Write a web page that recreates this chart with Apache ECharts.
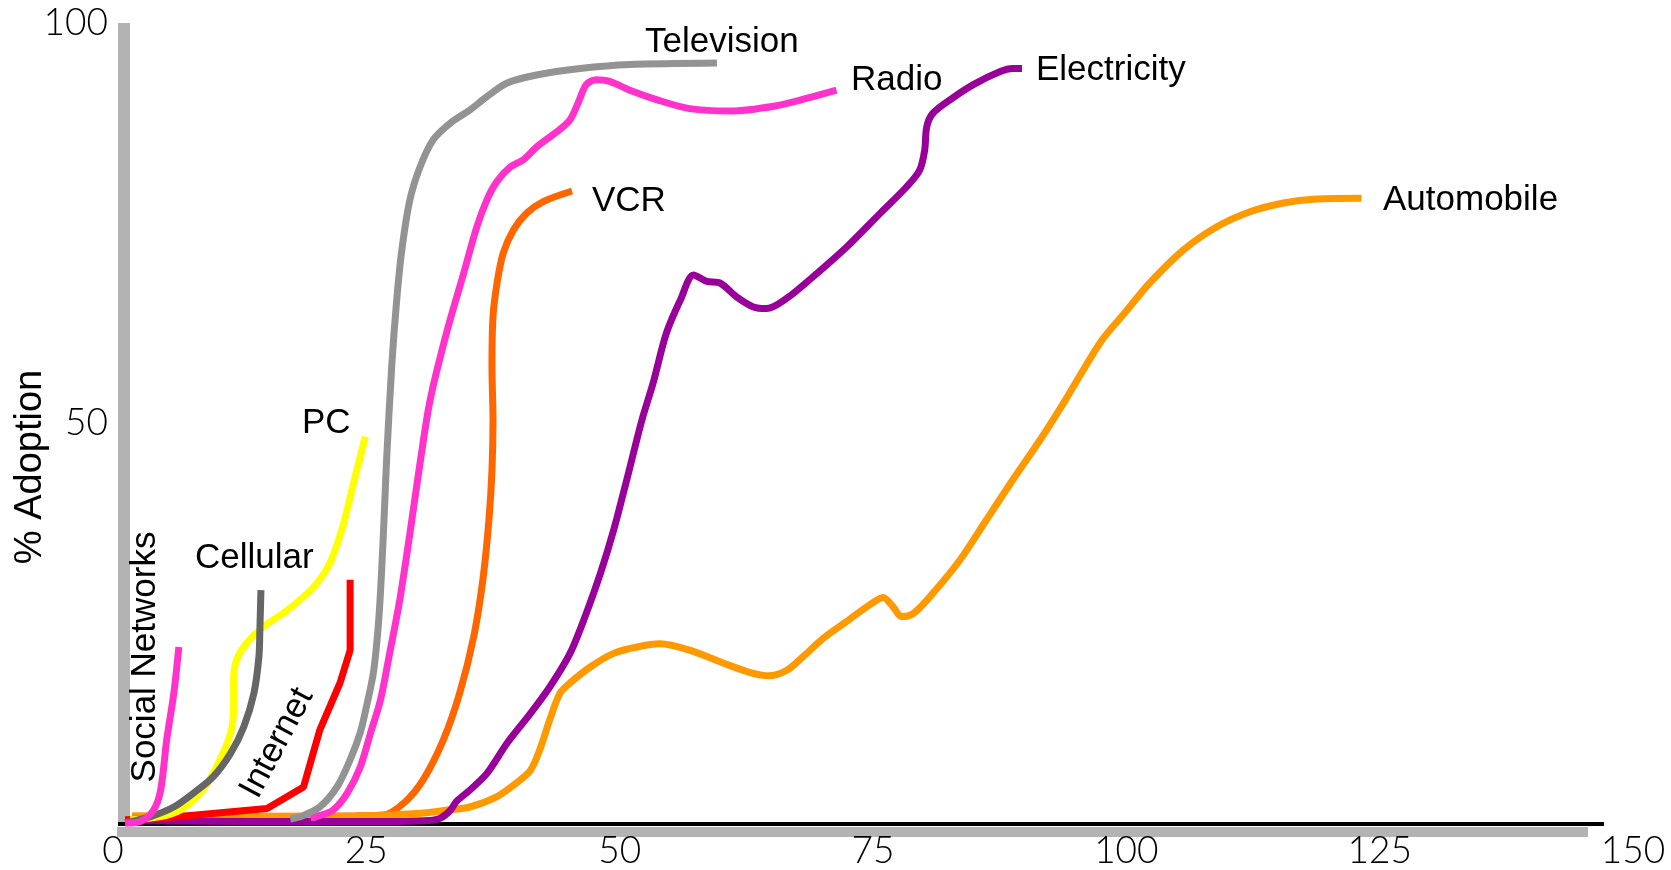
<!DOCTYPE html>
<html lang="en" style="height: 100%">
<head>
  <meta charset="utf-8" />
  <title>Technology adoption</title>
</head>
<body style="height: 100%; margin: 0; background: #fff">
  <div id="container" style="width: 1671px; height: 870px"></div>

  <script src="https://cdn.jsdelivr.net/npm/echarts@6/dist/echarts.min.js"></script>

  <script>
    // years since introduction -> % adoption
    const television = [[17.5,0.5],[18.5,0.8],[20.4,2.0],[22.1,4.5],[23.4,7.9],[24.4,11.3],[25.0,14.5],[25.7,18.8],[26.2,25.0],[26.5,31.3],[26.8,39.5],[27.0,45.4],[27.5,57.0],[28.0,65.4],[28.5,71.6],[29.3,77.9],[30.3,82.0],[31.6,85.4],[33.3,87.5],[35.2,89.1],[36.9,90.8],[38.9,92.5],[41.8,93.5],[46.1,94.3],[51.0,94.8],[59.6,95.0]];
    const radio = [[19.5,0.6],[20.1,0.8],[21.7,1.6],[23.1,3.7],[24.4,7.0],[25.4,11.2],[26.4,15.4],[27.3,21.2],[28.3,27.9],[29.3,36.2],[30.3,45.0],[31.3,52.9],[32.9,61.2],[34.6,68.7],[35.9,74.5],[36.9,77.9],[37.9,80.2],[39.2,82.0],[40.5,82.9],[41.8,84.5],[43.8,86.4],[45.1,87.9],[45.9,90.0],[46.7,92.3],[47.7,92.9],[49.0,92.7],[51.0,91.6],[53.7,90.4],[56.9,89.3],[60.9,89.0],[65.2,89.6],[68.5,90.6],[71.4,91.6]];
    const vcr = [[1.9,0.8],[12,0.8],[24,0.9],[26.7,1.0],[28.7,2.5],[30.6,5.4],[32.6,10.4],[34.2,16.2],[35.6,23.3],[36.5,30.4],[37.1,37.9],[37.4,44.1],[37.5,50.4],[37.4,57.0],[37.5,63.3],[37.9,67.5],[38.5,71.2],[39.5,74.1],[40.8,76.2],[42.5,77.7],[45.3,79.0]];
    const automobile = [[1.9,0.9],[21.4,0.8],[30,1.2],[32.9,1.6],[35.2,2.0],[37.9,3.3],[39.8,5.0],[41.2,6.6],[42.1,9.1],[43.1,12.9],[44.1,16.2],[45.1,17.5],[47.1,19.5],[49.4,21.2],[51.7,22.0],[54.0,22.4],[56.9,21.6],[60.2,20.0],[62.9,18.8],[64.7,18.4],[66.5,19.1],[68.1,20.8],[70.1,23.1],[72.4,25.2],[74.7,27.3],[76.0,28.2],[77.0,27.0],[77.8,25.8],[79.0,26.2],[80.9,28.7],[83.6,32.9],[86.2,37.9],[88.8,42.9],[91.5,47.9],[94.0,52.9],[97.5,60.2],[100.0,64.0],[102.3,67.5],[105.6,71.6],[108.9,74.5],[112.2,76.4],[115.5,77.5],[118.8,78.0],[123.2,78.1]];
    const electricity = [[1.2,0.3],[15,0.2],[28,0.2],[31.2,0.3],[32.3,0.6],[33.3,1.6],[33.9,2.7],[35.2,4.1],[36.9,6.2],[38.9,10.0],[41.2,13.7],[43.1,17.0],[45.1,21.2],[46.7,26.2],[48.1,31.2],[49.4,36.6],[50.7,42.9],[52.2,50.4],[53.3,55.0],[54.6,61.2],[56.0,65.4],[57.3,68.5],[58.6,67.7],[59.9,67.5],[61.5,65.8],[63.2,64.5],[64.5,64.3],[66.5,65.6],[69.1,68.3],[72.4,72.0],[75.7,76.2],[78.3,79.5],[79.6,81.6],[80.1,84.1],[80.3,87.0],[80.9,88.7],[82.6,90.4],[84.9,92.3],[87.5,93.9],[88.8,94.3],[89.7,94.3]];
    const pc = [[1.7,0.4],[4.7,0.8],[6.6,1.6],[8.6,3.7],[10.2,7.0],[11.6,11.2],[11.9,14.5],[11.9,17.9],[12.2,20.4],[13.2,22.5],[14.8,24.5],[17.2,26.6],[19.8,29.5],[21.4,32.5],[22.7,37.2],[23.7,42.3],[24.9,48.3]];
    const cellular = [[1.2,0.0],[3.7,0.8],[6.0,2.0],[7.9,3.7],[9.9,5.8],[11.6,8.7],[12.9,12.0],[13.9,16.2],[14.4,20.8],[14.5,24.5],[14.6,29.1]];
    const internet = [[1.2,0.4],[4.7,0.6],[15.2,1.8],[18.8,4.5],[20.4,11.6],[22.4,17.5],[23.4,21.6],[23.4,30.4]];
    const social = [[1.2,0.0],[2.7,0.2],[4.0,1.6],[4.7,4.1],[5.3,10.4],[6.0,16.2],[6.5,22.0]];

    // drawing order: first ones end up underneath
    const names = ['VCR', 'Automobile', 'Electricity', 'Radio', 'Television', 'Internet', 'PC', 'Cellular', 'Social Networks'];
    const seriesData = [vcr, automobile, electricity, radio, television, internet, pc, cellular, social];
    const colors = ['#FF6600', '#FF9900', '#990099', '#FF33CC', '#939393', '#FF0000', '#FFFF00', '#666666', '#FF33CC'];

    var dom = document.getElementById('container');
    var myChart = echarts.init(dom);

    const labelFont = '35px "Liberation Sans", Arial, sans-serif';
    function tag(text, x, y, align, rot) {
      return {
        type: 'text',
        x: x, y: y,
        z: 100,
        rotation: (rot || 0) * Math.PI / 180,
        style: {
          text: text, font: labelFont, fill: '#000',
          textAlign: align, align: align,
          textVerticalAlign: 'middle', verticalAlign: 'middle'
        }
      };
    }

    const series = names.map(function (name, i) {
      return {
        name: name,
        type: 'line',
        xAxisIndex: 0,
        yAxisIndex: 0,
        data: seriesData[i],
        showSymbol: false,
        smooth: name === 'Internet' ? false : 0.3,
        clip: false,
        lineStyle: { color: colors[i], width: 7, cap: 'butt' },
        silent: true
      };
    });

    var option = {
      animation: false,
      backgroundColor: '#fff',
      grid: [
        { left: 113, right: 38, top: 23, bottom: 47, outerBoundsMode: 'none', containLabel: false },   // data
        { left: 118, right: 67, top: 23, bottom: 46, outerBoundsMode: 'none', containLabel: false },   // black baseline
        { left: 117, right: 83, top: 23, bottom: 38, outerBoundsMode: 'none', containLabel: false }    // grey bar under it
      ],
      xAxis: [
        {
          gridIndex: 0, type: 'value', min: 0, max: 150, interval: 25,
          axisLine: { show: false }, axisTick: { show: false }, splitLine: { show: false },
          axisLabel: { margin: 10, fontSize: 37, fontFamily: 'Lato', fontWeight: 300, color: '#000',
                       showMinLabel: true, showMaxLabel: true }
        },
        {
          gridIndex: 1, type: 'value', min: 0, max: 1,
          axisLine: { show: true, onZero: false, lineStyle: { color: '#000', width: 4, cap: 'butt' } },
          axisTick: { show: false }, axisLabel: { show: false }, splitLine: { show: false }
        },
        {
          gridIndex: 2, type: 'value', min: 0, max: 1,
          axisLine: { show: true, onZero: false, lineStyle: { color: '#b3b3b3', width: 10, cap: 'butt' } },
          axisTick: { show: false }, axisLabel: { show: false }, splitLine: { show: false }
        }
      ],
      yAxis: [
        {
          gridIndex: 0, type: 'value', min: 0, max: 100, interval: 50, offset: -11,
          axisLine: { show: true, onZero: false, lineStyle: { color: '#b3b3b3', width: 12, cap: 'butt' } },
          axisTick: { show: false }, splitLine: { show: false },
          axisLabel: {
            margin: 16, fontSize: 37, fontFamily: 'Lato', fontWeight: 300, color: '#000',
            formatter: function (v) { return v === 0 ? '' : v; }
          },
          name: '% Adoption', nameLocation: 'middle', nameRotate: 90, nameGap: 74,
          nameMoveOverlap: false,
          nameTextStyle: { fontSize: 38, fontFamily: 'Liberation Sans', color: '#000', padding: [0, 88, 0, 0] }
        },
        { gridIndex: 1, type: 'value', min: 0, max: 1, show: false },
        { gridIndex: 2, type: 'value', min: 0, max: 1, show: false }
      ],
      graphic: [
        tag('Television', 645, 42, 'left'),
        tag('Radio', 851, 80, 'left'),
        tag('Electricity', 1036, 70, 'left'),
        tag('VCR', 592, 201, 'left'),
        tag('Automobile', 1383, 200, 'left'),
        tag('PC', 302, 423, 'left'),
        tag('Cellular', 195, 558, 'left'),
        tag('Internet', 277, 743, 'center', 62),
        tag('Social Networks', 145, 657, 'center', 90)
      ],
      series: series
    };

    myChart.setOption(option);

    window.onresize = function () {
      myChart.resize();
    };
  </script>
</body>
</html>
